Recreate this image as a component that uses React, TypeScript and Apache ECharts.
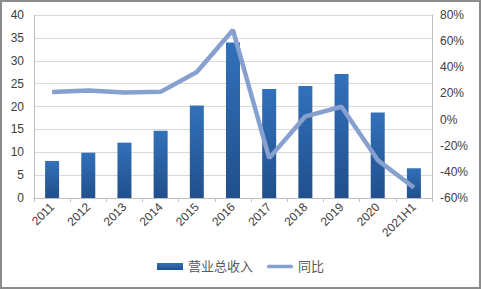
import React, { useEffect, useRef } from "react";
import * as echarts from "echarts";

const categories = ["2011", "2012", "2013", "2014", "2015", "2016", "2017", "2018", "2019", "2020", "2021H1"];
const revenue = [8.1, 9.9, 12.1, 14.7, 20.2, 34.0, 23.8, 24.5, 27.1, 18.7, 6.5];
const yoy = [21, 22.3, 20.8, 21.2, 36.4, 68.5, -29.5, 2.5, 9.8, -31, -52];

export default function App() {
  const ref = useRef<HTMLDivElement>(null);
  useEffect(() => {
    const chart = echarts.init(ref.current!, null, { renderer: "svg" });
    const font = "'Liberation Sans', 'Noto Sans CJK SC', sans-serif";
    chart.setOption({
      animation: false,
      backgroundColor: "#ffffff",
      textStyle: { fontFamily: font },
      graphic: [
        {
          type: "rect",
          shape: { x: 1, y: 1, width: 479, height: 287 },
          style: { fill: "none", stroke: "#8c8c8c", lineWidth: 2 },
          silent: true,
        },
      ],
      legend: {
        bottom: 11,
        left: "center",
        itemGap: 14,
        itemWidth: 26,
        itemHeight: 7,
        textStyle: { fontSize: 13, color: "#595959", fontFamily: font },
        data: [
          { name: "营业总收入", icon: "rect" },
          {
            name: "同比",
            icon: "path://M2,0 H26 A2,2 0 0 1 26,4 H2 A2,2 0 0 1 2,0 Z",
            itemStyle: { color: "#86a0cf" },
          },
        ],
      },
      grid: { left: 34, right: 49, top: 15, bottom: 91 },
      xAxis: {
        type: "category",
        data: categories,
        boundaryGap: true,
        axisLine: { lineStyle: { color: "#bfbfbf" } },
        axisTick: { show: true, length: 4, lineStyle: { color: "#bfbfbf" } },
        axisLabel: { rotate: 45, fontSize: 12, color: "#404040", margin: 7, interval: 0 },
      },
      yAxis: [
        {
          type: "value",
          min: 0,
          max: 40,
          interval: 5,
          axisLine: { show: true, lineStyle: { color: "#bfbfbf" } },
          axisTick: { show: false },
          splitLine: { lineStyle: { color: "#d9d9d9" } },
          axisLabel: { fontSize: 12, color: "#404040", margin: 10 },
        },
        {
          type: "value",
          min: -60,
          max: 80,
          interval: 20,
          position: "right",
          axisLine: { show: true, lineStyle: { color: "#bfbfbf" } },
          axisTick: { show: false },
          splitLine: { show: false },
          axisLabel: { fontSize: 12, color: "#404040", margin: 8, formatter: "{value}%" },
        },
      ],
      series: [
        {
          name: "营业总收入",
          type: "bar",
          data: revenue,
          barWidth: 14,
          itemStyle: {
            color: new echarts.graphic.LinearGradient(0, 0, 0, 1, [
              { offset: 0, color: "#3271bb" },
              { offset: 1, color: "#204f8c" },
            ]),
          },
        },
        {
          name: "同比",
          type: "line",
          yAxisIndex: 1,
          data: yoy,
          symbol: "none",
          lineStyle: { color: "#86a0cf", width: 4.5 },
          itemStyle: { color: "#86a0cf" },
        },
      ],
    });
    return () => chart.dispose();
  }, []);
  return (
    <div
      ref={ref}
      style={{ position: "fixed", left: 0, top: 0, width: 481, height: 289 }}
    />
  );
}
